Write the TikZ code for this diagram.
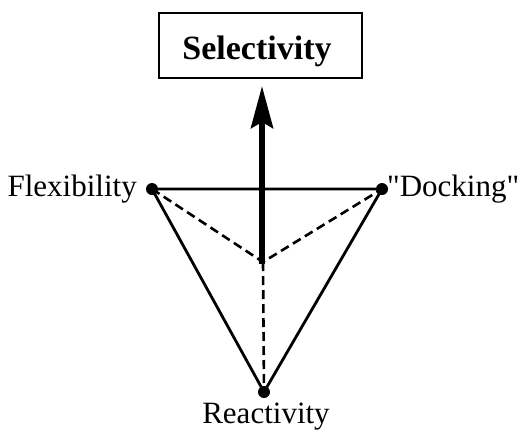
\documentclass[tikz,border=0pt]{standalone}
\usepackage{fontspec}
\setmainfont{Liberation Serif}[Ligatures=TeXOff]
\usetikzlibrary{arrows.meta}
\begin{document}
\begin{tikzpicture}[x=1pt,y=-1pt,
  edge/.style={line width=2.8pt,line join=round},
  hidden/.style={line width=2.6pt,dash pattern=on 9pt off 5pt},
  vertex/.style={circle,fill=black,inner sep=0pt,minimum size=12pt},
  lbl/.style={font=\fontsize{31}{34}\selectfont,inner sep=0pt},
  titlebox/.style={draw,line width=2pt,minimum width=203pt,minimum height=65pt,inner sep=0pt},
  titletext/.style={font=\fontsize{34}{38}\selectfont\bfseries,inner sep=0pt}]
\useasboundingbox (0,0) rectangle (525,432);
% corners of the triangle and the hidden apex
\node[vertex] (F) at (152,189) {};
\node[vertex] (D) at (382,189) {};
\node[vertex] (R) at (264,392) {};
\coordinate (C) at (263,262);
% outer triangle
\draw[edge] (F.center) -- (D.center) -- (R.center) -- cycle;
% hidden edges to the apex
\draw[hidden] (F.center) -- (C) -- (D.center);
\draw[hidden] (C) -- (R.center);
% labels
\node[lbl,anchor=base east] (Fl) at (137,196) {Flexibility};
\node[lbl,anchor=base west] (Dl) at (387,196) {"Docking"};
\node[lbl,anchor=base] (Rl) at (266,423) {Reactivity};
% selectivity box and arrow
\node[titlebox] (S) at (260,45.5) {};
\node[titletext,anchor=base] (St) at (257,59) {Selectivity};
\coordinate (T) at (262,86);
\draw[line width=6pt,-{Triangle[length=42pt,width=22pt,inset=6pt]}] (C) ++(-1,2) coordinate (C2) -- (T);
\end{tikzpicture}
\end{document}
